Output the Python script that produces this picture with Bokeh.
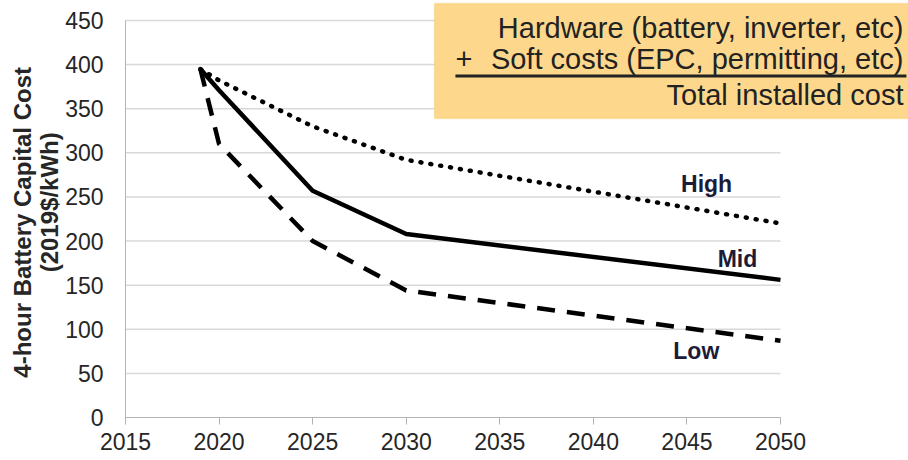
from bokeh.plotting import figure
from bokeh.models import Label, BoxAnnotation, Range1d, FixedTicker, LinearAxis
from bokeh.embed import file_html
from bokeh.resources import INLINE

# ---- data ----
years = [2019, 2020, 2025, 2030, 2050]
high = [395, 382, 330, 292, 220]
mid = [395, 371, 257, 208, 156]
low = [395, 310, 200, 144, 87]

x_ticks = [2015, 2020, 2025, 2030, 2035, 2040, 2045, 2050]
y_ticks = [0, 50, 100, 150, 200, 250, 300, 350, 400, 450]

series_labels = ["High", "Mid", "Low"]
label_x = [2046.05, 2047.7, 2045.5]
label_y = [265, 180, 75]

y_title = ["4-hour Battery Capital Cost", "(2019$/kWh)"]
box_lines = ["Hardware (battery, inverter, etc)",
             "Soft costs (EPC, permitting, etc)",
             "Total installed cost"]

FONT = "Liberation Sans"
NBSP = "\u00a0"

# frame runs from the y axis to the right edge of the figure (so the
# annotation box can extend past 2050); axis and grid are bounded to the data span
X0, X1 = 2015, 2050
PX_PER_YEAR = 655 / 35
PX_PER_UNIT = 397 / 450
XMAX = 2015 + 783 / PX_PER_YEAR
YMAX = 417 / PX_PER_UNIT

p = figure(width=908, height=460, output_backend="svg", toolbar_location=None,
           x_range=Range1d(X0, XMAX), y_range=Range1d(0, YMAX),
           min_border_left=125, min_border_right=0, min_border_top=0,
           min_border_bottom=43)
p.outline_line_color = None
p.background_fill_color = "white"
p.border_fill_color = "white"

# horizontal grid, drawn so it stops at 2050
p.xgrid.visible = False
p.ygrid.visible = False
p.segment(x0=[X0] * (len(y_ticks) - 1), x1=[X1] * (len(y_ticks) - 1),
          y0=y_ticks[1:], y1=y_ticks[1:], line_color="#d9d9d9", line_width=1.5)

# axes
p.xaxis.bounds = (X0, X1)
p.xaxis.ticker = FixedTicker(ticks=x_ticks)
p.xaxis.major_tick_out = 7
p.xaxis.major_tick_in = 0
p.xaxis.minor_tick_line_color = None
p.xaxis.axis_line_color = "#b3b3b3"
p.xaxis.major_tick_line_color = "#b3b3b3"
p.xaxis.major_label_text_font = FONT
p.xaxis.major_label_text_font_size = "23px"
p.xaxis.major_label_text_color = "#262626"
p.xaxis.major_label_standoff = 8

p.yaxis.bounds = (0, 450)
p.yaxis.ticker = FixedTicker(ticks=y_ticks)
p.yaxis.major_tick_out = 0
p.yaxis.major_tick_in = 0
p.yaxis.minor_tick_line_color = None
p.yaxis.axis_line_color = "#b3b3b3"
p.yaxis.major_label_text_font = FONT
p.yaxis.major_label_text_font_size = "23px"
p.yaxis.major_label_text_color = "#262626"
p.yaxis.major_label_standoff = 22

# y axis title: two label-only axes stacked to the left (inner line first);
# non-breaking spaces nudge each line along the axis to match the original
titles = [(NBSP * 2 + y_title[1], 0), (y_title[0] + NBSP * 4, -3)]
for t, standoff in titles:
    ax = LinearAxis(ticker=FixedTicker(ticks=[], minor_ticks=[]),
                    axis_line_color=None, major_tick_line_color=None,
                    minor_tick_line_color=None, axis_label=t,
                    axis_label_text_font=FONT, axis_label_text_font_style="bold",
                    axis_label_text_font_size="24px", axis_label_text_color="#262626",
                    axis_label_standoff=standoff)
    p.add_layout(ax, "left")

# series
p.line(years, high, line_color="black", line_width=4.5, line_dash="1 9", line_cap="round")
p.line(years, mid, line_color="black", line_width=4.5)
p.line(years, low, line_color="black", line_width=4.5, line_dash="18 12")

for t, x, y in zip(series_labels, label_x, label_y):
    p.add_layout(Label(x=x, y=y, text=t, text_font=FONT, text_font_style="bold",
                       text_font_size="23px", text_color="#1c1c38",
                       text_align="center", text_baseline="middle"))

# annotation box
p.add_layout(BoxAnnotation(left=2031.51, right=None, top=469.3, bottom=338.9,
                           fill_color="#fdd88c", fill_alpha=1.0,
                           line_color="#f5c24a", line_width=1.5, level="overlay"))

box_y = [442.0, 405.8, 366.1]
for t, y in zip(box_lines, box_y):
    p.add_layout(Label(x=2056.57, y=y, text=t, text_font=FONT, text_font_size="29px",
                       text_color="#222222", text_align="right",
                       text_baseline="alphabetic", level="overlay"))
p.add_layout(Label(x=2032.63, y=box_y[1], text="+", text_font=FONT, text_font_size="29px",
                   text_color="#222222", text_align="left",
                   text_baseline="alphabetic", level="overlay"))
p.add_layout(BoxAnnotation(left=2032.63, right=2056.73, top=388.8, bottom=385.4,
                           fill_color="#222222", fill_alpha=1.0, line_color=None,
                           level="overlay"))

open("out.html", "w").write(file_html(p, INLINE))
